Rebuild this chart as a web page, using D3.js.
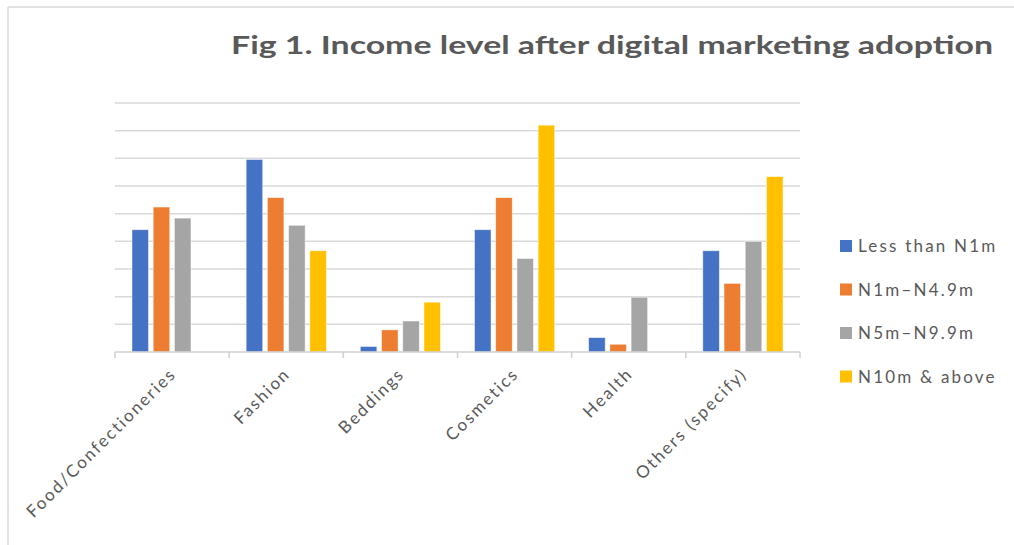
<!DOCTYPE html>
<html>
<head>
<meta charset="utf-8">
<script src="https://cdn.jsdelivr.net/npm/d3@7"></script>
<style>
  body { margin: 0; background: #fff; }
  text { font-family: Lato, "Open Sans", sans-serif; }
</style>
</head>
<body>
<div id="chart"></div>
<script>
const width = 1014;
const height = 545;

// categories and series (gridline = 5 units)
const categories = ['Food/Confectioneries', 'Fashion', 'Beddings', 'Cosmetics', 'Health', 'Others (specify)'];
const seriesNames = ['Less than N1m', 'N1m\u2013N4.9m', 'N5m\u2013N9.9m', 'N10m & above'];
const seriesColors = ['#4472c4', '#ed7d31', '#a5a5a5', '#ffc000'];
const lessThan1m = [22.1, 34.8, 1.0, 22.1, 2.6, 18.3];
const from1to4 = [26.2, 27.9, 4.0, 27.9, 1.4, 12.4];
const from5to9 = [24.2, 22.9, 5.6, 16.9, 9.9, 20.0];
const above10m = [0, 18.3, 9.0, 41.0, 0, 31.7];
const yTicks = [0, 5, 10, 15, 20, 25, 30, 35, 40, 45];

const seriesValues = [lessThan1m, from1to4, from5to9, above10m];
const rows = categories.map((c, i) => ({
    category: c,
    values: seriesNames.map((s, j) => ({ key: s, value: seriesValues[j][i], color: seriesColors[j] }))
}));

const svg = d3.select('#chart')
    .append('svg')
    .attr('width', width)
    .attr('height', height);

// chart frame (only top and left edges show in the crop)
svg.append('line').attr('x1', 8).attr('x2', width).attr('y1', 7).attr('y2', 7)
    .attr('stroke', '#d9d9d9').attr('stroke-width', 1.5);
svg.append('line').attr('x1', 8).attr('x2', 8).attr('y1', 7).attr('y2', height)
    .attr('stroke', '#d9d9d9').attr('stroke-width', 1.5);

svg.append('text')
    .attr('x', 993)
    .attr('y', 54)
    .attr('text-anchor', 'end')
    .attr('font-size', 25)
    .attr('font-weight', 'bold')
    .attr('fill', '#595959')
    .attr('textLength', 762)
    .attr('lengthAdjust', 'spacingAndGlyphs')
    .text('Fig 1. Income level after digital marketing adoption');

const x0 = d3.scaleBand()
    .domain(categories)
    .range([115, 800])
    .padding(0);

const x1 = d3.scaleBand()
    .domain(seriesNames)
    .range([0, x0.bandwidth()])
    .paddingInner(0.22)
    .paddingOuter(0.8);

const y = d3.scaleLinear()
    .domain([0, 45])
    .range([352, 103]);

// GRIDLINES
svg.append('g')
    .selectAll('line')
    .data(yTicks.slice(1))
    .join('line')
    .attr('x1', 115)
    .attr('x2', 800)
    .attr('y1', d => y(d))
    .attr('y2', d => y(d))
    .attr('stroke', '#d9d9d9')
    .attr('stroke-width', 1.5);

// BARS
svg.append('g')
    .selectAll('g')
    .data(rows)
    .join('g')
    .attr('transform', d => `translate(${x0(d.category)},0)`)
    .selectAll('rect')
    .data(d => d.values.filter(v => v.value > 0))
    .join('rect')
    .attr('x', d => x1(d.key))
    .attr('width', x1.bandwidth())
    .attr('y', d => y(d.value))
    .attr('height', d => y(0) - y(d.value))
    .attr('fill', d => d.color)
    .attr('stroke', '#fff')
    .attr('stroke-opacity', 0.6)
    .attr('stroke-width', 0.8);

// X AXIS
const xAxis = svg.append('g').attr('transform', `translate(0,${y(0)})`);
xAxis.append('line')
    .attr('x1', 115).attr('x2', 800)
    .attr('stroke', '#d0d0d0').attr('stroke-width', 1.5);
xAxis.selectAll('line.tick')
    .data(categories.map(c => x0(c)).concat([800]))
    .join('line')
    .attr('class', 'tick')
    .attr('x1', d => d).attr('x2', d => d)
    .attr('y1', 0).attr('y2', 6)
    .attr('stroke', '#d0d0d0').attr('stroke-width', 1.5);

xAxis.selectAll('text')
    .data(categories)
    .join('text')
    .attr('transform', d => `translate(${x0(d) + x0.bandwidth() / 2 + 5},${23}) rotate(-45)`)
    .attr('text-anchor', 'end')
    .attr('font-size', 17)
    .attr('letter-spacing', 2)
    .attr('fill', '#595959')
    .text(d => d);

// LEGEND
const legend = svg.append('g')
    .selectAll('g')
    .data(seriesNames)
    .join('g')
    .attr('transform', (d, i) => `translate(840,${246 + i * 43.5})`);
legend.append('rect')
    .attr('x', 0).attr('y', -6)
    .attr('width', 12).attr('height', 12)
    .attr('fill', (d, i) => seriesColors[i]);
legend.append('text')
    .attr('x', 18)
    .attr('y', 6)
    .attr('font-size', 17)
    .attr('letter-spacing', 2.2)
    .attr('fill', '#595959')
    .text(d => d);
</script>
</body>
</html>
